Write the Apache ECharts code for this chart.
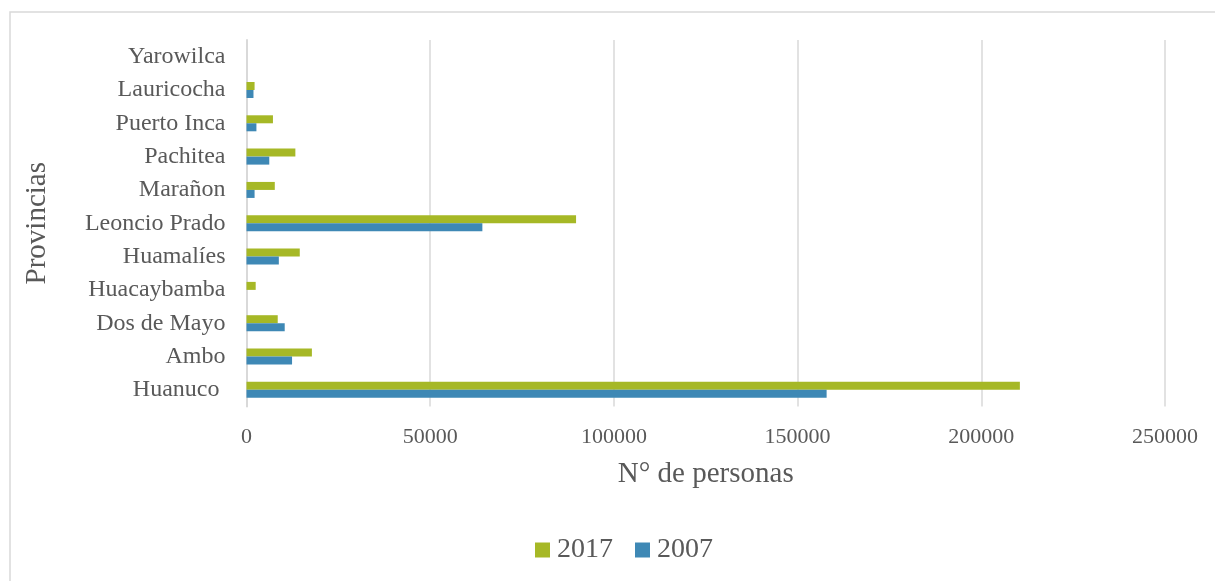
<!DOCTYPE html>
<html>
<head>
<meta charset="utf-8">
<script src="https://cdn.jsdelivr.net/npm/echarts@6/dist/echarts.min.js"></script>
<style>
html,body{margin:0;padding:0;background:#fff;}
#c{width:1215px;height:581px;}
</style>
</head>
<body>
<div id="c"></div>
<script>
const categories = ['Huanuco ', 'Ambo', 'Dos de Mayo', 'Huacaybamba', 'Huamalíes', 'Leoncio Prado', 'Marañon', 'Pachitea', 'Puerto Inca', 'Lauricocha', 'Yarowilca'];
const values2017 = [210500, 17800, 8500, 2500, 14500, 89700, 7700, 13300, 7200, 2200, 0];
const values2007 = [157900, 12400, 10400, 0, 8800, 64200, 2200, 6200, 2700, 1900, 0];
const xTicks = [0, 50000, 100000, 150000, 200000, 250000];

const chart = echarts.init(document.getElementById('c'), null, {renderer: 'canvas'});
const font = '"Liberation Serif", "Times New Roman", serif';
const txt = '#595959';
chart.setOption({
  animation: false,
  textStyle: {fontFamily: font},
  graphic: [{
    type: 'rect',
    shape: {x: 10, y: 12, width: 1400, height: 800},
    style: {fill: 'none', stroke: '#d9d9d9', lineWidth: 1.5},
    silent: true
  }],
  grid: {left: 246.5, right: 50, top: 40, bottom: 174.5},
  legend: {
    data: ['2017', '2007'],
    top: 531,
    left: 530,
    icon: 'rect',
    itemWidth: 15,
    itemHeight: 15,
    itemGap: 22,
    textStyle: {fontFamily: font, fontSize: 28, color: txt, padding: [0, 0, 0, 2]}
  },
  xAxis: {
    type: 'value',
    min: xTicks[0],
    max: xTicks[xTicks.length - 1],
    interval: xTicks[1] - xTicks[0],
    name: 'N° de personas',
    nameLocation: 'middle',
    nameGap: 53,
    nameTextStyle: {fontFamily: font, fontSize: 29, color: txt},
    axisLine: {show: false},
    axisTick: {show: false},
    axisLabel: {fontFamily: font, fontSize: 22, color: txt, margin: 20, formatter: v => String(v)},
    splitLine: {show: true, lineStyle: {color: '#d9d9d9', width: 1.5}}
  },
  yAxis: {
    type: 'category',
    data: categories,
    name: 'Provincias',
    nameLocation: 'middle',
    nameGap: 195,
    nameTextStyle: {fontFamily: font, fontSize: 29, color: txt},
    axisLine: {show: true, lineStyle: {color: '#d9d9d9', width: 2}},
    axisTick: {show: false},
    axisLabel: {fontFamily: font, fontSize: 24, color: txt, margin: 21}
  },
  series: [
    {
      name: '2017', type: 'bar', data: values2017,
      barWidth: 8, barGap: '0%',
      itemStyle: {color: '#A6B826'}
    },
    {
      name: '2007', type: 'bar', data: values2007,
      barWidth: 8, barGap: '0%',
      itemStyle: {color: '#3E88B5'}
    }
  ]
});
</script>
</body>
</html>
